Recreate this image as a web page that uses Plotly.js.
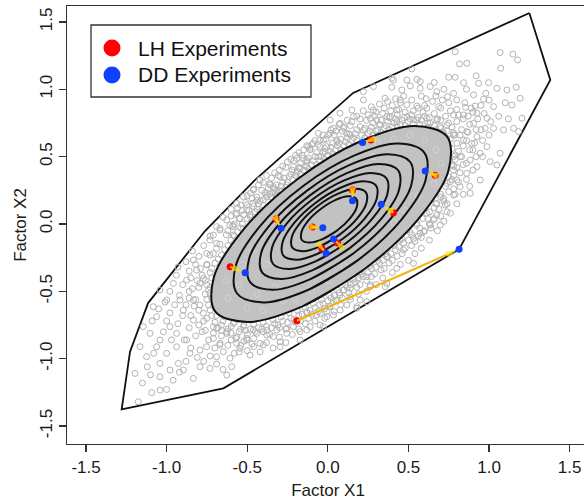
<!DOCTYPE html>
<html>
<head>
<meta charset="utf-8">
<script src="https://cdn.plot.ly/plotly-3.0.1.min.js"></script>
<style>
  html, body { margin: 0; padding: 0; overflow: hidden; background: #fff; }
  #plot { width: 600px; height: 502px; }
</style>
</head>
<body>
<div id="plot"></div>
<script>
// Sample of factor scores (Factor X1, Factor X2) outside the dense core
const cloud = [
  [0.790,1.279],[0.817,1.188],[0.862,1.193],[1.069,1.272],[1.148,1.260],[1.177,1.218],[1.073,1.156],[0.521,1.151],
  [0.407,1.069],[0.573,1.057],[0.749,1.089],[0.790,1.089],[0.842,1.049],[0.935,1.044],[0.997,1.049],[1.049,1.007],
  [1.111,0.995],[1.169,1.015],[1.193,0.933],[1.142,0.883],[1.028,0.871],[0.966,0.926],[0.904,0.958],[0.854,0.866],
  [0.914,0.876],[0.800,0.921],[0.742,0.945],[0.676,0.982],[0.635,1.020],[0.573,1.007],[0.511,1.025],[0.459,0.995],
  [0.397,1.015],[0.355,0.933],[0.449,0.921],[0.490,0.884],[0.552,0.876],[0.614,0.859],[0.687,0.871],[0.780,0.809],
  [0.842,0.809],[0.925,0.822],[0.987,0.785],[1.028,0.710],[1.090,0.698],[1.152,0.710],[1.183,0.686],[1.204,0.785],
  [0.976,0.710],[0.904,0.747],[0.862,0.686],[0.925,0.648],[0.987,0.574],[1.069,0.525],[1.007,0.463],[1.049,0.438],
  [0.945,0.525],[0.893,0.599],[0.842,0.624],[0.780,0.673],[0.738,0.636],
  [0.221,0.921],[0.159,0.797],[0.076,0.747],[0.014,0.673],[-0.027,0.624],[0.117,0.673],[0.200,0.723],[0.283,0.846],
  [0.304,0.772],[0.366,0.797],[0.428,0.846],[0.490,0.797],[0.552,0.772],[0.635,0.747],[0.697,0.723],[0.718,0.673],
  [0.656,0.673],[0.014,0.772],[0.076,0.822],[0.149,0.846],[-0.007,0.574],[0.055,0.624],[0.221,0.982],[0.283,1.020],
  [0.397,1.082],[0.490,1.069],[0.552,1.074],
  [0.821,0.500],[0.883,0.475],[0.925,0.426],[0.862,0.376],[0.945,0.327],[0.821,0.277],[0.883,0.228],[0.780,0.401],
  [0.800,0.327],
  [0.676,0.153],[0.728,0.141],[0.614,0.079],[0.656,0.030],[0.552,0.005],[0.573,-0.069],[0.490,-0.045],[0.449,-0.119],
  [0.469,-0.193],[0.531,-0.292],[0.428,-0.329],[0.366,-0.243],[0.262,-0.292],[0.200,-0.354],[0.159,-0.441],[0.242,-0.391],
  [0.262,-0.465],[0.097,-0.490],[0.138,-0.540],[0.055,-0.564],[0.014,-0.614],[0.076,-0.639],[0.200,-0.564],[-0.006,-0.688],
  [-0.048,-0.663],[-0.027,-0.762],[0.366,-0.441],[0.180,-0.614],[0.200,-0.379],[0.138,-0.478],[0.076,-0.527],[0.263,-0.453],
  [0.356,-0.465],[0.242,-0.577],[0.180,-0.626],[0.118,-0.601],[0.035,-0.577],[0.035,-0.676],
  [-1.196,-1.109],[-1.176,-1.319],[-1.093,-1.252],[-1.041,-1.233],[-1.000,-1.228],[-1.041,-1.134],[-1.124,-0.985],[-1.041,-1.035],
  [-1.000,-0.960],[-0.927,-1.035],[-0.834,-1.146],[-0.731,-1.072],[-0.627,-1.121],[-0.596,-1.059],[-0.690,-0.985],[-0.793,-0.936],
  [-0.876,-0.861],[-0.938,-0.812],[-0.979,-0.762],[-1.062,-0.688],[-1.083,-0.614],[-1.000,-0.564],[-0.917,-0.564],[-1.041,-0.490],
  [-0.958,-0.441],[-0.876,-0.416],[-0.814,-0.342],[-0.834,-0.267],[-0.752,-0.218],[-0.731,-0.119],[-0.669,-0.045],[-0.627,0.030],
  [-0.565,0.079],[-0.503,0.104],[-0.462,0.153],[-0.586,-0.020],[-0.690,-0.144],[-0.793,-0.441],[-0.731,-0.515],[-0.834,-0.564],
  [-0.896,-0.639],[-0.834,-0.713],[-0.772,-0.663],[-0.710,-0.762],[-0.627,-0.812],[-0.565,-0.886],[-0.503,-0.861],[-0.421,-0.886],
  [-0.338,-0.836],[-0.255,-0.812],[-0.379,-0.787],[-0.462,-0.787],[-0.524,-0.762],[-0.586,-0.738],[-0.669,-0.886],[-0.752,-0.911],
  [-0.855,-0.960],[-0.938,-0.911],[-1.041,-0.861],[-1.103,-0.812],[-1.145,-0.762],[-1.062,-0.911],[-1.165,-0.911],[-0.979,-1.084],
  [-0.896,-1.084],[-0.793,-1.059],[-0.214,-0.762],[-0.172,-0.861],[-0.296,-0.911],[-0.131,-0.787],
  [-0.110,0.562],[-0.048,0.574],[-0.017,0.537],[-0.058,0.500],[-0.131,0.425],[-0.172,0.413],[-0.193,0.376],[-0.296,0.351],
  [-0.358,0.289],[-0.421,0.326],[-0.462,0.252],[-0.524,0.203],[-0.565,0.153],[-0.503,0.141],[-0.441,0.178],[-0.379,0.215],
  [-0.317,0.240],[-0.255,0.289],[-0.358,0.141],[-0.421,0.091],[-0.483,0.067],[-0.545,0.042],[-0.607,-0.008],[-0.669,-0.032],
  [-0.710,-0.082],[-0.586,-0.082],[-0.524,-0.032],[-0.462,0.017],[-0.400,0.042],[-0.338,0.067],[-0.007,0.438],[-0.152,0.487],
  [-0.193,0.487],
  [-0.421,0.327],[-0.338,0.277],[-0.214,0.426],[-0.131,0.475],[-0.090,0.599],[-0.058,0.673],[-0.317,0.203],[-0.255,0.228],
  [-0.121,0.574],
  [-0.772,-0.403],[-0.752,-0.304],[-0.731,-0.230],[-0.690,-0.181],[-0.793,-0.601],[-0.752,-0.700],[-0.690,-0.775],[-0.627,-0.799],
  [-0.565,-0.837],[-0.503,-0.849],[-0.441,-0.812],[-0.379,-0.824],[-0.317,-0.787],[-0.255,-0.775],[-0.172,-0.799],[-0.110,-0.762],
  [-0.048,-0.750],[-0.069,-0.676],[-0.007,-0.651],[-0.131,-0.651],[-0.296,-0.874],[-0.400,-0.898],[-0.545,-0.923],[-0.669,-0.898],
  [-0.607,-0.997],[-0.483,-0.973],[-0.710,-0.849],[-0.648,-0.948],
  [0.759,0.314],[0.780,0.215],[0.718,0.190],[0.739,0.091],[0.676,0.067],[0.635,-0.008],[0.697,-0.008],[0.594,-0.057],
  [0.532,-0.107],[0.769,0.438],[0.790,0.512],[0.790,0.661],[0.739,0.735],[0.676,0.772],[0.614,0.784],[0.532,0.772],
  [0.428,0.760],[0.325,0.735],[0.221,0.698],[0.138,0.661],[0.056,0.611],[0.097,0.710],[0.035,0.710],[0.263,0.784],
  [0.387,0.797],
  [-0.50,0.04],[-0.53,0.10],[-0.45,0.09],[-0.43,0.15],[-0.47,0.19],[-0.40,0.14],[-0.38,0.20],[-0.41,0.25],
  [-0.35,0.20],[-0.33,0.26],[-0.36,0.30],[-0.30,0.25],[-0.28,0.31],[-0.31,0.36],[-0.25,0.31],[-0.23,0.37],
  [-0.26,0.42],[-0.20,0.36],[-0.18,0.42],[-0.21,0.47],[-0.15,0.40],[-0.13,0.46],[-0.16,0.51],[-0.10,0.44],
  [-0.08,0.50],[-0.11,0.55],[-0.05,0.47],[-0.03,0.53],[-0.06,0.59],[0.00,0.51],[0.02,0.57],[-0.01,0.63],
  [0.05,0.55],[0.07,0.60],[0.04,0.66],[0.10,0.58],[0.12,0.64],[0.09,0.69],[0.15,0.62],[0.17,0.67],
  [0.14,0.73],[0.25,0.67],[0.27,0.72],[0.24,0.77],[0.30,0.69],[0.32,0.74],[0.29,0.80],[0.35,0.71],
  [0.37,0.76],[0.34,0.82],[0.40,0.72],[0.42,0.78],[0.39,0.84],[0.45,0.74],[0.47,0.79],[0.44,0.85],
  [0.50,0.76],[0.52,0.81],[0.58,0.77],[0.62,0.75],[0.66,0.73],[0.70,0.71],[0.74,0.69],[0.78,0.66],
  [0.80,0.60],[0.81,0.54],[0.79,0.48],[0.80,0.42],[0.78,0.36],[0.60,0.80],[0.68,0.78],[0.75,0.75],
  [0.83,0.70],[0.86,0.62],
  [0.74,0.30],[0.70,0.20],[0.66,0.12],[0.62,0.04],[0.57,-0.03],[0.52,-0.08],[0.47,-0.14],[0.42,-0.19],
  [0.37,-0.24],[0.32,-0.29],[0.27,-0.33],[0.22,-0.39],[0.17,-0.43],[0.12,-0.47],[0.07,-0.51],[0.02,-0.55],
  [-0.03,-0.59],[-0.08,-0.62],[-0.13,-0.66],[-0.18,-0.68],[-0.23,-0.70],[-0.28,-0.72],[-0.33,-0.74],[-0.38,-0.76],
  [-0.43,-0.77],[-0.48,-0.78],[-0.54,-0.78],[-0.60,-0.76],[-0.65,-0.72],
  [0.78,0.26],[0.74,0.15],[0.70,0.06],[0.64,-0.03],[0.58,-0.10],[0.52,-0.16],[0.46,-0.22],[0.40,-0.27],
  [0.33,-0.34],[0.27,-0.39],[0.20,-0.45],[0.13,-0.51],[0.05,-0.57],[-0.02,-0.63],[-0.10,-0.67],[-0.20,-0.73],
  [-0.30,-0.77],[-0.40,-0.80],[-0.50,-0.82],[-0.60,-0.81],[-0.68,-0.77],
  [-0.75,-0.45],[-0.76,-0.52],[-0.74,-0.60],[-0.72,-0.68],[-0.78,-0.38],[-0.80,-0.47],[-0.82,-0.56],[-0.80,-0.64],
  [-0.77,-0.72],[-0.72,-0.33],[-0.68,-0.26],[-0.64,-0.19],[-0.60,-0.12],[-0.56,-0.06],[-0.75,-0.30],[-0.71,-0.22],
  [-0.67,-0.15],[-0.63,-0.08],[-0.59,-0.01],[-0.86,-0.50],[-0.88,-0.60],[-0.85,-0.40],
  [-0.62,-0.05],[-0.58,0.00],[-0.60,0.06],[-0.55,0.04],[-0.52,0.07],[-0.56,0.12],[-0.49,0.10],[-0.51,0.16],
  [-0.46,0.13],[-0.44,0.20],[-0.48,0.23],[-0.42,0.17],[-0.39,0.23],[-0.43,0.29],[-0.37,0.27],[-0.34,0.23],
  [-0.32,0.29],[-0.35,0.34],[-0.29,0.28],[-0.27,0.34],[-0.30,0.40],[-0.24,0.35],[-0.22,0.40],[-0.25,0.46],
  [-0.19,0.39],[-0.17,0.45],[-0.20,0.51],[-0.14,0.43],[-0.12,0.49],[-0.15,0.55],[-0.09,0.47],[-0.07,0.53],
  [-0.10,0.59],[-0.04,0.50],[-0.02,0.56],[-0.05,0.62],[0.01,0.54],[0.03,0.60],[0.00,0.66],[0.06,0.58],
  [0.08,0.63],[0.05,0.69],[0.11,0.61],[0.13,0.67],[0.10,0.72],[0.16,0.64],[0.18,0.70],[0.15,0.76],
  [0.21,0.66],[0.23,0.71],[0.20,0.78],[0.26,0.69],[0.28,0.75],[0.25,0.81],[0.31,0.70],[0.33,0.77],
  [0.30,0.83],[0.36,0.73],[0.38,0.79],[0.35,0.86],[0.41,0.75],[0.43,0.81],[0.40,0.88],[0.46,0.77],
  [0.48,0.83],[0.45,0.90],[0.51,0.78],[0.53,0.84],[0.56,0.79],[0.59,0.83],[0.63,0.79],[0.66,0.82],
  [0.70,0.77],[0.73,0.80],[0.77,0.72],[0.80,0.76],[0.82,0.66],[0.84,0.58],[0.83,0.50],[0.84,0.44],
  [0.82,0.38],[0.81,0.31],[0.79,0.22],[0.87,0.68],[0.88,0.55],[0.91,0.60],[0.87,0.80],[0.95,0.70],
  [0.92,0.50],
  [0.77,0.33],[0.75,0.24],[0.72,0.17],[0.69,0.11],[0.66,0.04],[0.63,0.00],[0.60,-0.05],[0.56,-0.09],
  [0.54,-0.13],[0.50,-0.12],[0.48,-0.18],[0.44,-0.17],[0.43,-0.24],[0.39,-0.22],[0.38,-0.29],[0.34,-0.27],
  [0.35,-0.33],[0.30,-0.32],[0.29,-0.37],[0.25,-0.36],[0.24,-0.42],[0.19,-0.40],[0.18,-0.47],[0.14,-0.45],
  [0.10,-0.49],[0.09,-0.55],[0.04,-0.53],[0.00,-0.57],[0.01,-0.61],[-0.05,-0.60],[-0.06,-0.65],[-0.11,-0.64],
  [-0.12,-0.70],[-0.16,-0.67],[-0.17,-0.72],[-0.21,-0.71],[-0.25,-0.73],[-0.26,-0.78],[-0.31,-0.75],[-0.35,-0.77],
  [-0.36,-0.82],[-0.41,-0.78],[-0.45,-0.80],[-0.46,-0.85],[-0.51,-0.79],[-0.55,-0.80],[-0.57,-0.85],[-0.62,-0.78],
  [-0.66,-0.75],[-0.70,-0.73],[-0.73,-0.64],[-0.75,-0.56],[-0.74,-0.49],[-0.76,-0.42],[-0.73,-0.36],[-0.70,-0.29],
  [-0.66,-0.23],[-0.62,-0.16],[-0.58,-0.09],[-0.54,-0.03],
  [-0.82,-0.30],[-0.86,-0.35],[-0.90,-0.45],[-0.92,-0.53],[-0.95,-0.60],[-0.90,-0.68],[-0.86,-0.77],[-0.82,-0.83],
  [-0.78,-0.80],[-0.74,-0.86],[-0.70,-0.92],[-0.66,-0.83],[-0.62,-0.90],[-0.58,-0.96],[-0.54,-0.90],[-0.50,-0.94],
  [-0.46,-0.91],[-0.42,-0.95],[-0.38,-0.88],[-0.34,-0.92],[-0.30,-0.84],[-0.26,-0.88],[-0.22,-0.82],[-0.18,-0.78],
  [-0.98,-0.66],[-1.00,-0.72],[-1.02,-0.80],[-0.97,-0.86],[-0.93,-0.74],[-0.89,-0.86],[-0.85,-0.92],[-0.81,-0.99],
  [-0.77,-1.02],[-0.73,-0.98],[-0.69,-1.04],[-0.65,-1.08],[-0.88,-1.02],[-0.92,-1.10],[-0.96,-1.16],[-1.08,-0.96],
  [-1.12,-1.06],[-1.15,-1.18],[-1.10,-1.12],[-0.86,-0.55],[-0.94,-0.38],[-0.98,-0.50],[-1.01,-0.58],[-1.05,-0.63],
  [-1.09,-0.72],[-0.80,-0.24],[-0.77,-0.16],[-0.73,-0.09],[-0.69,-0.02],[-0.65,0.05],[-0.60,0.11],[-0.84,-0.20],
  [-0.88,-0.28],[-0.93,-0.32],
  [0.60,0.88],[0.65,0.91],[0.70,0.86],[0.75,0.90],[0.80,0.85],[0.85,0.90],[0.90,0.83],[0.95,0.88],
  [1.00,0.92],[0.58,0.95],[0.66,1.05],[0.72,1.00],[0.78,0.97],[0.86,1.00],[0.92,1.10],[0.98,0.97],
  [1.06,0.80],[1.10,0.90],[1.12,0.78],[0.96,0.62],[1.00,0.66],[0.92,0.70],[0.88,0.74],[0.84,0.78],
  [0.90,0.55],[0.96,0.50],[0.86,0.45],[0.90,0.40],[0.86,0.33],[0.88,0.28],[0.84,0.22],[0.80,0.15],
  [0.76,0.08],[0.72,0.02],[0.68,-0.05],[0.63,-0.12],[0.58,-0.18],[0.54,-0.22],[0.50,-0.27],[0.45,-0.30],
  [0.40,-0.36],[0.34,-0.40],[0.30,-0.45],[0.24,-0.50],[0.19,-0.52],[0.14,-0.56],[0.08,-0.60],[0.04,-0.65],
  [-0.02,-0.70],[-0.08,-0.72],[-0.14,-0.74],
  [-0.57,0.07],[-0.54,0.14],[-0.50,0.21],[-0.46,0.26],[-0.40,0.31],[-0.38,0.36],[-0.33,0.38],[-0.28,0.43],
  [-0.23,0.48],[-0.18,0.53],[-0.13,0.58],[-0.08,0.62],[-0.03,0.66],[0.02,0.70],[0.07,0.74],[0.12,0.77],
  [0.18,0.80],[0.22,0.84],[0.27,0.87],[0.32,0.89],[0.37,0.91],[0.42,0.93],[0.47,0.95],[0.52,0.92],
  [0.56,0.86],[0.61,0.93],[0.67,0.95],[0.71,0.92],[0.76,0.84],[0.81,0.81],[0.89,0.86],[0.93,0.78],
  [0.97,0.82],[1.01,0.76],
  [-0.53,0.00],[-0.48,0.05],[-0.44,0.11],[-0.40,0.18],[-0.36,0.22],[-0.32,0.21],[-0.29,0.24],[-0.26,0.27],
  [-0.22,0.33],[-0.17,0.37],[-0.12,0.41],[-0.07,0.44],[-0.02,0.48],[0.03,0.52],[0.08,0.55],[0.13,0.59],
  [0.18,0.62],[0.23,0.64],[0.28,0.66],[0.33,0.68],[0.38,0.70],[0.43,0.72],[0.48,0.73],[0.53,0.74],
  [0.57,0.74],[0.62,0.72],[0.67,0.70],[0.71,0.68],[0.76,0.63],[0.77,0.56],[0.78,0.50],[0.78,0.43],
  [-0.72,-0.40],[-0.73,-0.47],[-0.72,-0.55],[-0.71,-0.61],[-0.69,-0.68],[-0.64,-0.69],[-0.58,-0.73],[-0.52,-0.75],
  [-0.46,-0.74],[-0.40,-0.73],[-0.34,-0.71],[-0.29,-0.69],[-0.24,-0.66],[-0.19,-0.64],[-0.14,-0.62],[-0.09,-0.59],
  [-0.04,-0.56],[0.01,-0.53],[0.06,-0.49],[0.11,-0.45],[0.16,-0.41],[0.21,-0.37],[0.26,-0.31],[0.31,-0.27],
  [0.36,-0.22],[0.41,-0.16],[0.46,-0.11],[0.51,-0.06],[0.55,-0.01],[0.59,0.04],[0.63,0.09],[0.67,0.15],
  [0.70,0.22],[0.73,0.28],[0.75,0.35],
  [-0.79,-0.33],[-0.81,-0.42],[-0.84,-0.48],[-0.83,-0.61],[-0.85,-0.68],[-0.80,-0.75],[-0.76,-0.79],[-0.71,-0.81],
  [-0.66,-0.79],[-0.60,-0.86],[-0.55,-0.95],[-0.52,-0.87],[-0.47,-0.89]
];

// Sample points lying inside the dense core (outermost contour)
const coreCloud = [
  [-0.62,-0.55],[-0.55,-0.45],[-0.63,-0.42],[-0.50,-0.62],[-0.44,-0.52],[-0.40,-0.64],[-0.33,-0.47],[-0.28,-0.57],
  [-0.53,-0.30],[-0.47,-0.20],[-0.41,-0.09],[-0.35,0.02],[-0.27,0.11],[-0.20,0.19],[-0.12,0.26],[-0.05,0.33],
  [0.05,0.41],[0.13,0.48],[0.22,0.55],[0.31,0.60],[0.41,0.63],[0.51,0.66],[0.60,0.62],[0.67,0.55],
  [0.70,0.45],[0.63,0.38],[0.56,0.21],[0.48,0.10],[0.41,0.01],[0.32,-0.11],[0.22,-0.22],[0.10,-0.31],
  [0.00,-0.42],[-0.10,-0.49],[-0.20,-0.56],[-0.58,-0.14],[0.66,0.30],[-0.15,-0.62],[0.28,0.50],[-0.38,-0.30]
];

// Convex hull of the sample
const hullX = [1.250, 1.380, 0.814, -0.648, -1.279, -1.227, -1.115, -0.762, -0.451, 0.157, 1.250];
const hullY = [1.566, 1.069, -0.188, -1.220, -1.376, -0.948, -0.587, -0.052, 0.327, 0.973, 1.566];

// Density contour lines, outermost first
const contourX = [
  [0.230, -0.158, -0.498, -0.699, -0.707, -0.520, -0.189, 0.199, 0.539, 0.740, 0.748, 0.561],
  [0.189, -0.124, -0.399, -0.563, -0.571, -0.422, -0.155, 0.159, 0.434, 0.598, 0.606, 0.457],
  [0.160, -0.108, -0.342, -0.482, -0.488, -0.360, -0.131, 0.136, 0.371, 0.510, 0.517, 0.389],
  [0.138, -0.090, -0.289, -0.407, -0.413, -0.303, -0.109, 0.118, 0.318, 0.436, 0.441, 0.332],
  [0.114, -0.076, -0.242, -0.341, -0.345, -0.254, -0.092, 0.098, 0.265, 0.363, 0.368, 0.276],
  [0.095, -0.060, -0.196, -0.277, -0.280, -0.206, -0.073, 0.082, 0.218, 0.299, 0.302, 0.228],
  [0.075, -0.048, -0.156, -0.220, -0.223, -0.164, -0.059, 0.064, 0.172, 0.236, 0.239, 0.181],
  [0.059, -0.033, -0.113, -0.161, -0.163, -0.120, -0.042, 0.049, 0.129, 0.177, 0.179, 0.136]
];
const contourY = [
  [-0.332, -0.612, -0.727, -0.648, -0.395, -0.036, 0.332, 0.612, 0.727, 0.648, 0.395, 0.036],
  [-0.266, -0.490, -0.582, -0.516, -0.309, -0.018, 0.280, 0.505, 0.597, 0.530, 0.324, 0.033],
  [-0.217, -0.409, -0.488, -0.432, -0.257, -0.008, 0.246, 0.439, 0.518, 0.462, 0.286, 0.038],
  [-0.177, -0.341, -0.408, -0.361, -0.213, -0.002, 0.214, 0.378, 0.446, 0.399, 0.250, 0.039],
  [-0.141, -0.278, -0.334, -0.295, -0.171, 0.005, 0.185, 0.322, 0.379, 0.340, 0.216, 0.040],
  [-0.108, -0.219, -0.265, -0.233, -0.132, 0.012, 0.160, 0.271, 0.317, 0.285, 0.184, 0.040],
  [-0.077, -0.166, -0.202, -0.176, -0.095, 0.019, 0.137, 0.225, 0.261, 0.235, 0.154, 0.040],
  [-0.047, -0.112, -0.138, -0.119, -0.058, 0.027, 0.113, 0.179, 0.205, 0.185, 0.125, 0.040]
];

// Experiment designs: each LH run is paired with the DD run it moves to
const lhX = [-0.192, 0.267, 0.666, 0.153, 0.407, -0.321, -0.096, -0.606, -0.037, 0.061];
const lhY = [-0.718, 0.624, 0.362, 0.252, 0.084, 0.037, -0.022, -0.317, -0.180, -0.141];
const ddX = [0.814, 0.215, 0.604, 0.153, 0.331, -0.290, -0.031, -0.513, -0.011, 0.036];
const ddY = [-0.188, 0.604, 0.393, 0.173, 0.146, -0.032, -0.027, -0.362, -0.218, -0.111];

const legendNames = ['LH Experiments', 'DD Experiments'];
const legendColors = ['#ff0000', '#1040ff'];

const tickVals = [-1.5, -1.0, -0.5, 0.0, 0.5, 1.0, 1.5];
const tickText = ['-1.5', '-1.0', '-0.5', '0.0', '0.5', '1.0', '1.5'];

const FONT = 'Liberation Sans, Arial, sans-serif';
const traces = [];

// hull outline
traces.push({
  type: 'scatter', mode: 'lines', x: hullX, y: hullY,
  line: { color: '#111', width: 1.8 }, hoverinfo: 'skip'
});

// sample points as open circles
traces.push({
  type: 'scatter', mode: 'markers',
  x: cloud.map(p => p[0]), y: cloud.map(p => p[1]),
  marker: { symbol: 'circle-open', size: 6, color: '#b3b3b3', line: { width: 1, color: '#b3b3b3' } },
  hoverinfo: 'skip'
});

// closes a contour ring so the spline runs smoothly through its first vertex
function ring(arr) { return arr.concat([arr[0], arr[1]]); }

// dense core inside the outermost contour
traces.push({
  type: 'scatter', mode: 'lines',
  x: ring(contourX[0]), y: ring(contourY[0]),
  fill: 'toself', fillcolor: '#c2c2c2',
  line: { color: 'rgba(0,0,0,0)', width: 0, shape: 'spline', smoothing: 1 },
  hoverinfo: 'skip'
});
traces.push({
  type: 'scatter', mode: 'markers',
  x: coreCloud.map(p => p[0]), y: coreCloud.map(p => p[1]),
  marker: { symbol: 'circle-open', size: 6, color: '#d2d2d2', line: { width: 1, color: '#d2d2d2' } },
  hoverinfo: 'skip'
});

// contour lines
for (let k = 0; k < contourX.length; k++) {
  traces.push({
    type: 'scatter', mode: 'lines',
    x: ring(contourX[k]), y: ring(contourY[k]),
    line: { color: '#111', width: 2, shape: 'spline', smoothing: 1 },
    hoverinfo: 'skip'
  });
}

// LH points sit under the arrows, DD points on top of the arrow tips
traces.push({
  type: 'scatter', mode: 'markers', x: lhX, y: lhY,
  marker: { color: legendColors[0], size: 7 }, hoverinfo: 'skip'
});

// arrows from each LH run to its DD run
for (let i = 0; i < lhX.length; i++) {
  traces.push({
    type: 'scatter', mode: 'lines+markers',
    x: [lhX[i], ddX[i]], y: [lhY[i], ddY[i]],
    line: { color: '#f4b20f', width: 2 },
    marker: {
      symbol: ['circle', 'arrow'], size: [0, 11],
      color: '#ffe600', angleref: 'previous', standoff: [0, 3],
      line: { width: 0 }
    },
    hoverinfo: 'skip'
  });
}

traces.push({
  type: 'scatter', mode: 'markers', x: ddX, y: ddY,
  marker: { color: legendColors[1], size: 7 }, hoverinfo: 'skip'
});

// legend box drawn in paper coordinates
const legendRowsY = [0.9041, 0.8425];
const shapes = [{
  type: 'rect', xref: 'paper', yref: 'paper',
  x0: 0.046, x1: 0.4674, y0: 0.7922, y1: 0.9566,
  line: { color: '#333', width: 1.3 }, fillcolor: '#fff', layer: 'above'
}];
const annotations = [];
legendNames.forEach((name, i) => {
  shapes.push({
    type: 'circle', xref: 'paper', yref: 'paper',
    xsizemode: 'pixel', ysizemode: 'pixel',
    xanchor: 0.0862, yanchor: legendRowsY[i],
    x0: -8.5, x1: 8.5, y0: -8.5, y1: 8.5,
    fillcolor: legendColors[i], line: { width: 0 }, layer: 'above'
  });
  annotations.push({
    xref: 'paper', yref: 'paper', x: 0.1322, y: legendRowsY[i],
    xanchor: 'left', yanchor: 'middle', showarrow: false, text: name,
    font: { family: FONT, size: 21, color: '#111' }
  });
});

const axisCommon = {
  tickvals: tickVals, ticktext: tickText,
  ticks: 'outside', ticklen: 7, tickwidth: 1.3, tickcolor: '#333',
  showline: true, linecolor: '#333', linewidth: 1.3, mirror: true,
  showgrid: false, zeroline: false,
  tickfont: { family: FONT, size: 17, color: '#1a1a1a' }
};

const layout = {
  width: 600, height: 502,
  margin: { l: 67, r: 11, t: 6, b: 58 },
  paper_bgcolor: '#fff', plot_bgcolor: '#fff',
  font: { family: FONT, color: '#1a1a1a' },
  showlegend: false,
  xaxis: Object.assign({}, axisCommon, {
    range: [-1.618, 1.62],
    title: { text: 'Factor X1', font: { family: FONT, size: 17, color: '#1a1a1a' }, standoff: 8 }
  }),
  yaxis: Object.assign({}, axisCommon, {
    range: [-1.633, 1.618], tickangle: -90,
    title: { text: 'Factor X2', font: { family: FONT, size: 17, color: '#1a1a1a' }, standoff: 6 }
  }),
  shapes: shapes,
  annotations: annotations,
  hovermode: false
};

Plotly.newPlot('plot', traces, layout, { staticPlot: true, displayModeBar: false });
</script>
</body>
</html>
